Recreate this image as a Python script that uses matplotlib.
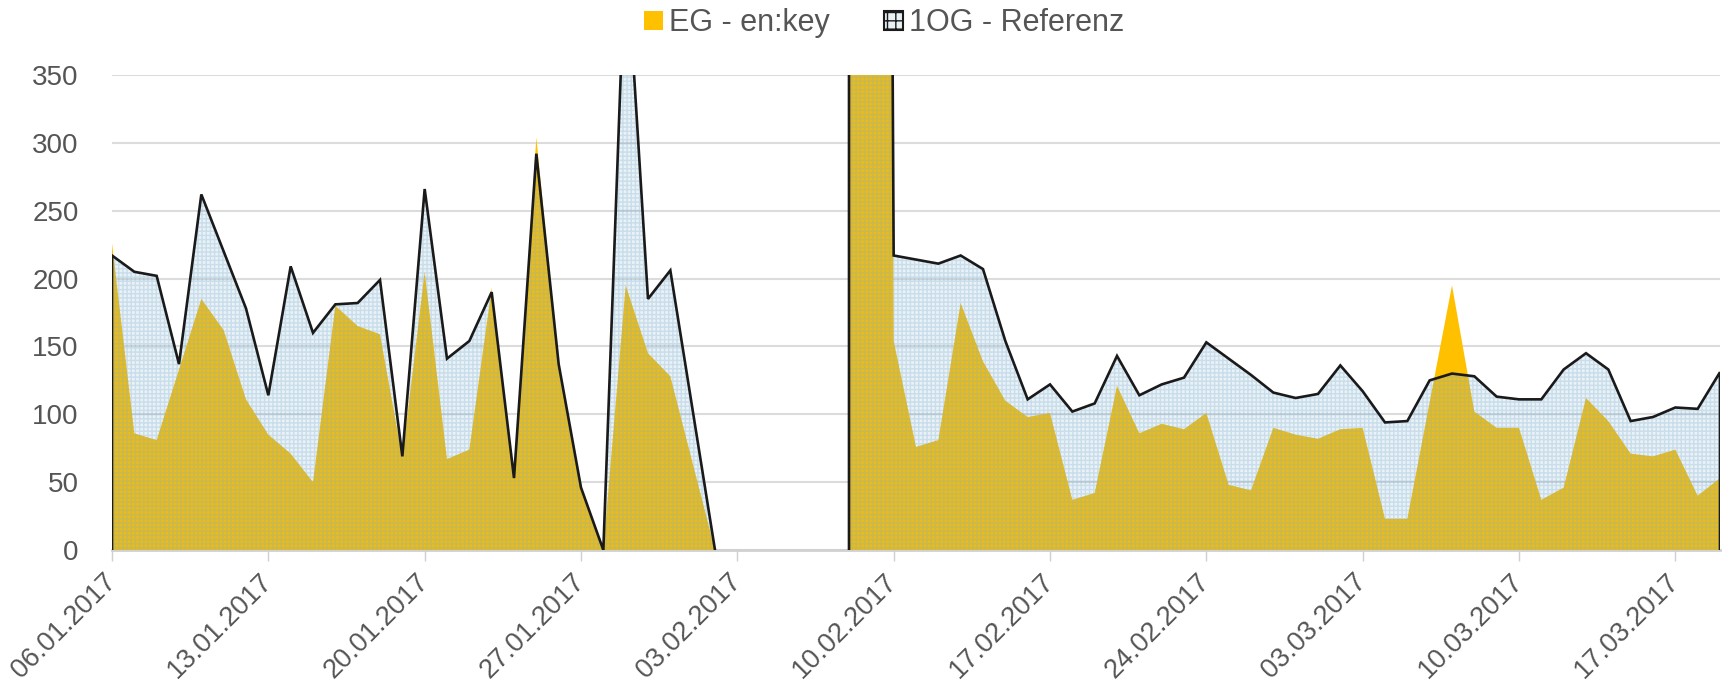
import numpy as np
import pandas as pd
import matplotlib
matplotlib.use("Agg")
import matplotlib.pyplot as plt
from matplotlib.patches import Patch

plt.rcParams['font.family'] = ['Liberation Sans', 'DejaVu Sans']
plt.rcParams['hatch.linewidth'] = 1.0

### daily values, 06.01.2017 - 19.03.2017 (None = no data) ###

start_date = "2017-01-06"
n_days = 73

eg_key = [226, 86, 81, 133, 185, 162, 111, 85, 71, 50,
          180, 165, 159, 68, 205, 67, 74, 193, 52, 304,
          137, 46, 0, 195, 145, 128, 64, 0, None, None,
          None, None, None, 2800, 3200, 154, 76, 81, 182, 139,
          110, 98, 101, 37, 42, 121, 86, 93, 89, 101,
          48, 44, 90, 85, 82, 89, 90, 23, 23, 109,
          195, 102, 90, 90, 37, 46, 112, 95, 71, 69,
          74, 40, 53]

og1_ref = [217, 205, 202, 137, 262, 220, 178, 114, 209, 160,
           181, 182, 199, 69, 266, 141, 154, 190, 53, 292,
           137, 46, 0, 450, 185, 206, 103, 0, None, None,
           None, None, None, 2800, 3200, 217, 214, 211, 217, 207,
           154, 111, 122, 102, 108, 143, 114, 122, 127, 153,
           141, 129, 116, 112, 115, 136, 117, 94, 95, 125,
           130, 128, 113, 111, 111, 133, 145, 133, 95, 98,
           105, 104, 131]

series_names = ["EG - en:key", "1OG - Referenz"]
y_ticks = [0, 50, 100, 150, 200, 250, 300, 350]

dates = pd.date_range(start_date, periods=n_days)
x = np.arange(n_days)
eg = np.array([np.nan if v is None else v for v in eg_key], dtype=float)
og = np.array([np.nan if v is None else v for v in og1_ref], dtype=float)

yellow = '#ffc000'
hatch_face = (0.40, 0.65, 0.78, 0.14)
hatch_line = (0.50, 0.68, 0.80, 0.30)
text_col = '#555555'

fig = plt.figure(figsize=(17.27, 6.85), dpi=100)
ax = fig.add_axes([112 / 1727, 1 - 550 / 685, (1720 - 112) / 1727, (550 - 75) / 685])

ax.fill_between(x, 0, eg, facecolor=yellow, linewidth=0, zorder=2)
ax.fill_between(x, 0, og, facecolor=hatch_face, edgecolor=hatch_line,
                hatch='++++', linewidth=0, zorder=3)

# outline of the reference series, closed down to the base at the ends of each run
valid = ~np.isnan(og)
runs = []
i = 0
while i < n_days:
    if valid[i]:
        j = i
        while j + 1 < n_days and valid[j + 1]:
            j += 1
        runs.append((i, j))
        i = j + 1
    else:
        i += 1
for a, b in runs:
    xs = np.concatenate([[x[a]], x[a:b + 1], [x[b]]])
    ys = np.concatenate([[0], og[a:b + 1], [0]])
    ax.plot(xs, ys, color='#1a1a1a', lw=1.9, zorder=4, solid_joinstyle='miter')

ax.set_xlim(0, n_days - 1)
ax.set_ylim(0, 350)
ax.set_yticks(y_ticks)
ax.yaxis.grid(True, color='#dcdcdc', lw=1.5, zorder=0)
ax.set_axisbelow(True)
for s in ['left', 'right', 'top']:
    ax.spines[s].set_visible(False)
ax.spines['bottom'].set_color('#d0d0d0')
ax.spines['bottom'].set_linewidth(2)
ax.spines['bottom'].set_zorder(1)

tick_idx = x[::7]
ax.set_xticks(tick_idx)
ax.set_xticklabels([dates[k].strftime('%d.%m.%Y') for k in tick_idx],
                   rotation=45, ha='right', va='center', rotation_mode='anchor')
ax.tick_params(axis='x', length=8, width=1, color='#d0d0d0', pad=12,
               labelsize=19.5, labelcolor=text_col)
ax.tick_params(axis='y', length=0, pad=24, labelsize=20, labelcolor=text_col)

handles = [Patch(facecolor=yellow, edgecolor=yellow, lw=0),
           Patch(facecolor='#e8f1f6', edgecolor='#1a1a1a', hatch='++', lw=1.5)]
fig.legend(handles, series_names, loc='center', bbox_to_anchor=(0.512, 1 - 23 / 685),
           ncol=2, frameon=False, fontsize=22, labelcolor=text_col,
           handlelength=0.6, handleheight=0.6, handletextpad=0.2, columnspacing=1.8)

plt.savefig('out.png', dpi=100)
